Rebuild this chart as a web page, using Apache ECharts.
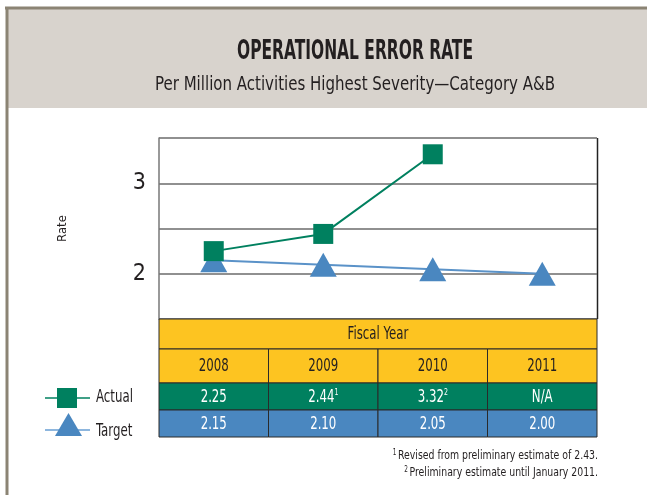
<!DOCTYPE html>
<html>
<head>
<meta charset="utf-8">
<script src="https://cdn.jsdelivr.net/npm/echarts@6/dist/echarts.min.js"></script>
<style>
html,body{margin:0;padding:0;background:#fff;}
#c{width:647px;height:495px;}
</style>
</head>
<body>
<div id="c"></div>
<script>
const titleText = 'OPERATIONAL ERROR RATE';
const subtitleText = 'Per Million Activities Highest Severity\u2014Category A&B';
const years = ['2008', '2009', '2010', '2011'];
const actual = [2.25, 2.44, 3.32, null];
const target = [2.15, 2.10, 2.05, 2.00];
const actualLabels = ['2.25', '2.44', '3.32', 'N/A'];
const actualNotes = ['', '1', '2', ''];
const targetLabels = ['2.15', '2.10', '2.05', '2.00'];
const yTickLabels = [2, 3];
const tableHeader = 'Fiscal Year';
const seriesNames = ['Actual', 'Target'];
const footnotes = ['Revised from preliminary estimate of 2.43.', 'Preliminary estimate until January 2011.'];

const FONT = '"Liberation Sans Narrow", "DejaVu Sans Condensed", "Roboto Condensed", sans-serif';
const GREEN = '#00805f';
const BLUE = '#4a87c0';
const YELLOW = '#fdc421';
const DARK = '#231f20';

const mctx = document.createElement('canvas').getContext('2d');
function fitScale(text, font, width) {
  mctx.font = font;
  const w = mctx.measureText(text).width;
  return w > 0 ? Math.min(1, width / w) : 1;
}

const titleFont = 'bold 26px ' + FONT;
const subFont = '20px ' + FONT;
const cellFont = '17px ' + FONT;
const legFont = '18px ' + FONT;
const noteFont = '13px ' + FONT;
const titleSx = fitScale(titleText, titleFont, 236);
const subSx = fitScale(subtitleText, subFont, 400);
const cellSx = fitScale('2008', cellFont, 30);
const legSx = fitScale('Actual', legFont, 37);
const noteSx = fitScale(footnotes[0], noteFont, 200);

const chart = echarts.init(document.getElementById('c'), null, {renderer: 'canvas'});

function cellText(x, y, text, color, rich) {
  return {
    type: 'text', x: x, y: y, scaleX: cellSx,
    style: {
      text: text, align: 'center', verticalAlign: 'middle', font: cellFont, fill: color,
      rich: rich ? {
        v: {font: cellFont, fill: color},
        s: {font: '9px ' + FONT, fill: color, verticalAlign: 'top', padding: [0, 0, 9, 0]}
      } : undefined
    }
  };
}

function renderTable(params, api) {
  const idx = api.value(0);
  const cs = params.coordSys;
  const bottom = cs.y + cs.height;
  const cx = api.coord([idx, 1.5])[0];
  const bw = api.size([1, 0])[0];
  const x0 = cx - bw / 2;
  const children = [];
  if (idx === 0) {
    children.push({
      type: 'rect',
      shape: {x: cs.x, y: bottom, width: cs.width, height: 30},
      style: {fill: YELLOW, stroke: '#2a2a2a', lineWidth: 1}
    });
    children.push(cellText(cs.x + cs.width / 2, bottom + 16, tableHeader, DARK, false));
  }
  const rows = [
    {y: bottom + 30, h: 34, fill: YELLOW, color: DARK, text: years[idx], rich: false},
    {y: bottom + 64, h: 27, fill: GREEN, color: '#fff', rich: true,
     text: '{v|' + actualLabels[idx] + '}' + (actualNotes[idx] ? '{s|' + actualNotes[idx] + '}' : '')},
    {y: bottom + 91, h: 27, fill: BLUE, color: '#fff', text: targetLabels[idx], rich: false}
  ];
  rows.forEach(function (r) {
    children.push({
      type: 'rect',
      shape: {x: x0, y: r.y, width: bw, height: r.h},
      style: {fill: r.fill, stroke: '#2a2a2a', lineWidth: 1}
    });
    children.push(cellText(cx, r.y + r.h / 2 + 1, r.text, r.color, r.rich));
  });
  return {type: 'group', children: children};
}

function noteText(y, mark, text) {
  return {
    type: 'text', x: 598, y: y, scaleX: noteSx,
    style: {
      text: '{s|' + mark + '}{t|' + text + '}', align: 'right', verticalAlign: 'middle',
      rich: {
        s: {font: '8px ' + FONT, fill: DARK, verticalAlign: 'top', padding: [0, 2, 7, 0]},
        t: {font: noteFont, fill: DARK}
      }
    }
  };
}

const option = {
  backgroundColor: '#fff',
  animation: false,
  textStyle: {fontFamily: FONT},
  grid: {left: 159, right: 50, top: 138, bottom: 176},
  xAxis: {
    type: 'category',
    data: years,
    boundaryGap: true,
    axisLine: {show: false},
    axisTick: {show: false},
    axisLabel: {show: false},
    splitLine: {show: false}
  },
  yAxis: {
    type: 'value',
    min: 1.5,
    max: 3.5,
    interval: 0.5,
    name: 'Rate',
    nameLocation: 'middle',
    nameGap: 90,
    nameTextStyle: {fontSize: 13, color: DARK, fontFamily: FONT},
    axisLine: {show: true, lineStyle: {color: '#777', width: 1.5}},
    axisTick: {show: false},
    axisLabel: {
      fontSize: 23, color: DARK, fontFamily: FONT, margin: 13,
      formatter: function (v) { return yTickLabels.indexOf(v) >= 0 ? String(v) : ''; }
    },
    splitLine: {show: true, lineStyle: {color: '#6b6b6b', width: 1.5}}
  },
  graphic: [
    {type: 'rect', z: -10, shape: {x: 8, y: 8, width: 640, height: 100}, style: {fill: '#d8d3cd'}},
    {type: 'line', shape: {x1: 5, y1: 8, x2: 647, y2: 8}, style: {stroke: '#8b8474', lineWidth: 3}},
    {type: 'line', shape: {x1: 7, y1: 7, x2: 7, y2: 495}, style: {stroke: '#8b8474', lineWidth: 3}},
    {type: 'line', shape: {x1: 597.5, y1: 138, x2: 597.5, y2: 319}, style: {stroke: '#222', lineWidth: 1.5}},
    {type: 'text', x: 355, y: 52, scaleX: titleSx,
      style: {text: titleText, align: 'center', verticalAlign: 'middle', font: titleFont, fill: DARK}},
    {type: 'text', x: 355, y: 85, scaleX: subSx,
      style: {text: subtitleText, align: 'center', verticalAlign: 'middle', font: subFont, fill: DARK}},
    noteText(456, '1', footnotes[0]),
    noteText(473, '2', footnotes[1]),
    // legend
    {type: 'line', shape: {x1: 45, y1: 398, x2: 90, y2: 398}, style: {stroke: GREEN, lineWidth: 1.5}},
    {type: 'rect', shape: {x: 57, y: 388, width: 20, height: 20}, style: {fill: GREEN}},
    {type: 'text', x: 96, y: 397, scaleX: legSx,
      style: {text: seriesNames[0], align: 'left', verticalAlign: 'middle', font: legFont, fill: DARK}},
    {type: 'line', shape: {x1: 45, y1: 430, x2: 90, y2: 430}, style: {stroke: '#8db6de', lineWidth: 2}},
    {type: 'polygon', shape: {points: [[68.5, 413], [82, 436], [55, 436]]}, style: {fill: BLUE}},
    {type: 'text', x: 96, y: 431, scaleX: legSx,
      style: {text: seriesNames[1], align: 'left', verticalAlign: 'middle', font: legFont, fill: DARK}}
  ],
  series: [
    {
      name: seriesNames[1],
      type: 'line',
      data: target,
      symbol: 'triangle',
      symbolSize: [27, 24],
      itemStyle: {color: BLUE},
      lineStyle: {color: '#5a92c8', width: 2},
      z: 3
    },
    {
      name: seriesNames[0],
      type: 'line',
      data: actual,
      symbol: 'rect',
      symbolSize: 20,
      itemStyle: {color: GREEN},
      lineStyle: {color: GREEN, width: 2},
      z: 4
    },
    {
      name: 'table',
      type: 'custom',
      data: years.map(function (_, i) { return [i]; }),
      encode: {x: 0},
      renderItem: renderTable,
      clip: false,
      silent: true,
      z: 1
    }
  ]
};
chart.setOption(option);
</script>
</body>
</html>
